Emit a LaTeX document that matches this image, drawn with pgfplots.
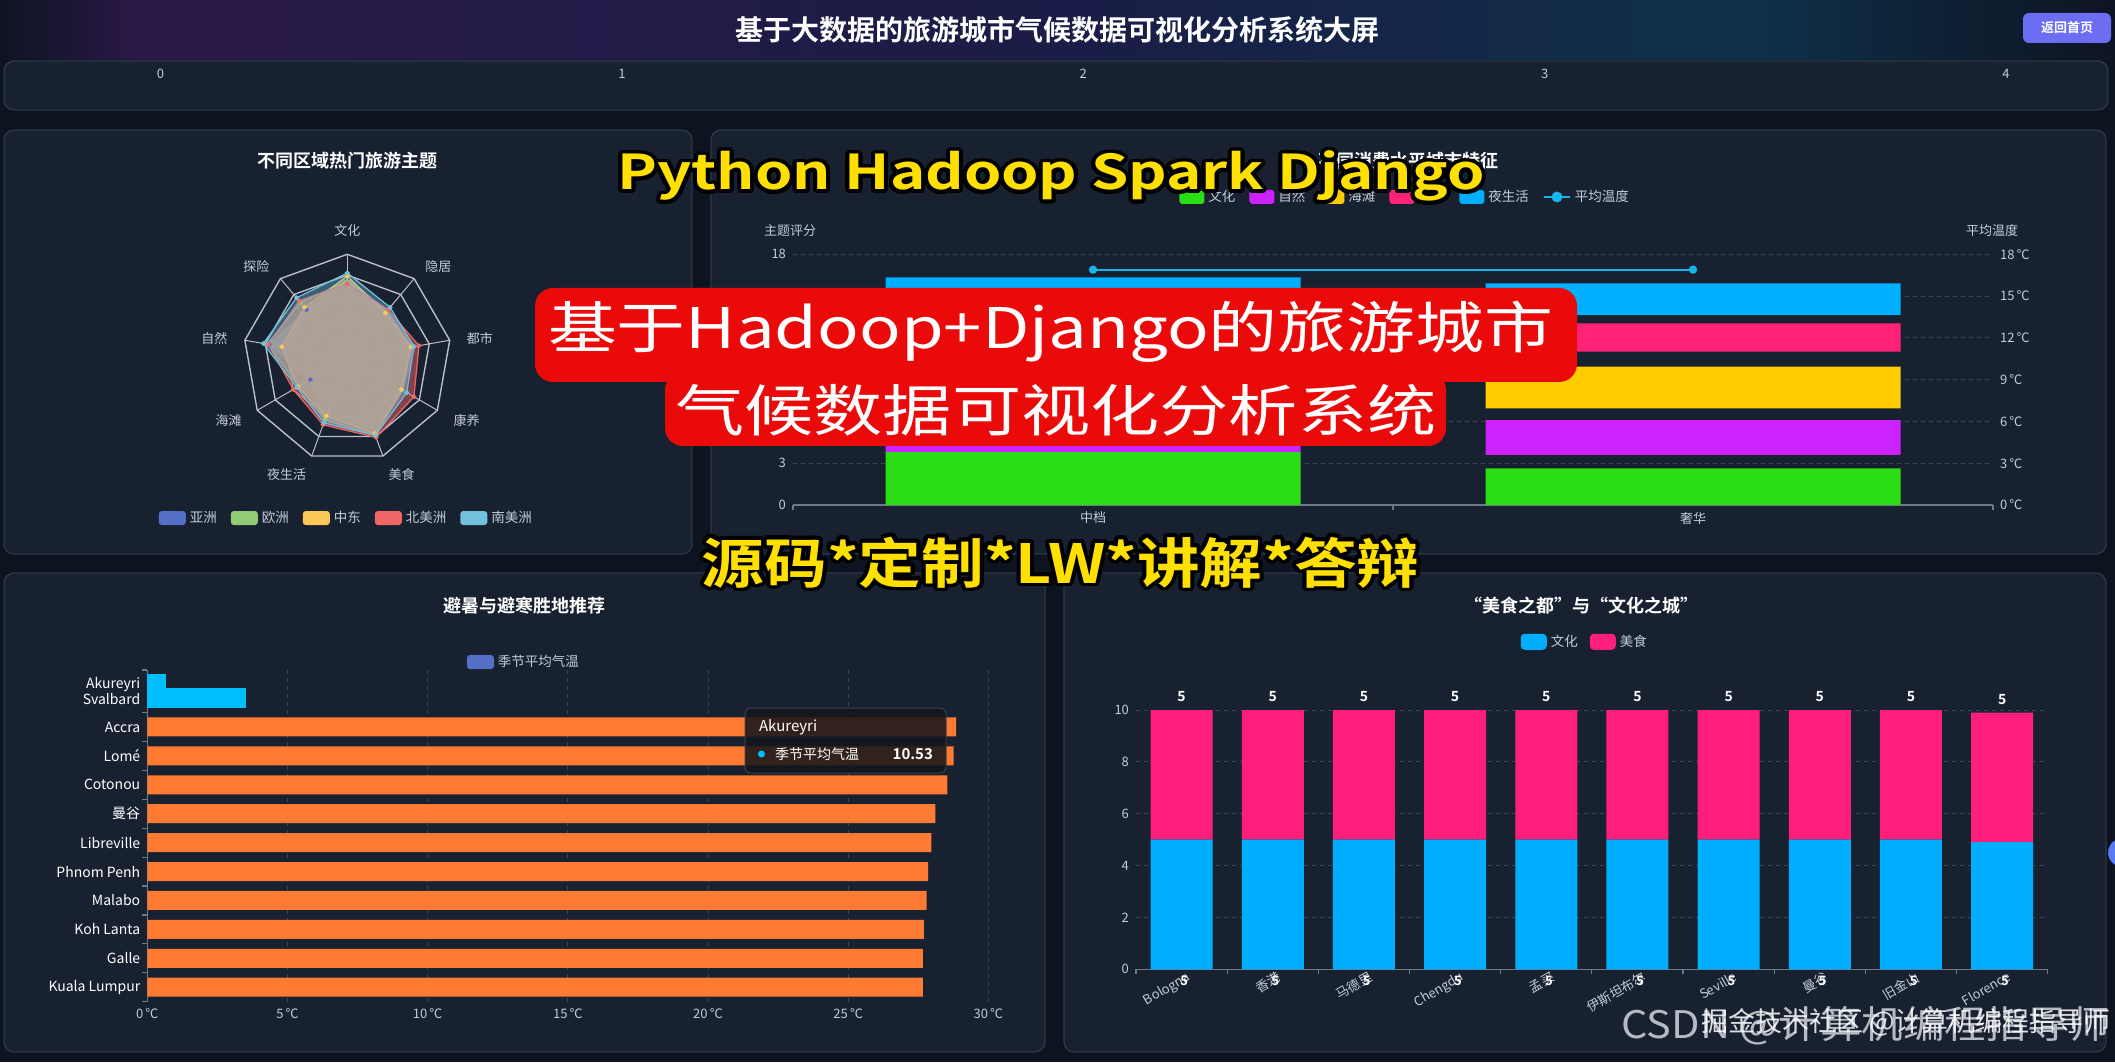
\documentclass[border=0pt]{standalone}
\usepackage{fontspec}
\setmainfont{Noto Sans CJK SC}[BoldFont={Noto Sans CJK SC Bold}]
\usepackage{graphicx}
\usepackage{pgfplots}
\pgfplotsset{compat=1.18}
\usepgfplotslibrary{polar}
\newcommand{\fs}[1]{\fontsize{#1}{#1}\selectfont}
\definecolor{pagebg}{HTML}{0D1420}
\definecolor{panelbg}{HTML}{172130}
\definecolor{panelbd}{HTML}{2B3749}
\definecolor{tickc}{HTML}{C3CBD6}
\definecolor{gridc}{HTML}{38455A}
\definecolor{axisc}{HTML}{6D7889}
\definecolor{hdrL}{HTML}{2A1848}
\definecolor{hdrM}{HTML}{1A1D47}
\definecolor{hdrR}{HTML}{0E3049}
\definecolor{hdrE}{HTML}{0E1422}
\definecolor{btn}{HTML}{6B6EF3}
\definecolor{rA}{HTML}{5470C6}
\definecolor{rB}{HTML}{91CC75}
\definecolor{rC}{HTML}{FAC858}
\definecolor{rD}{HTML}{EE6666}
\definecolor{rE}{HTML}{73C0DE}
\definecolor{radgrid}{HTML}{B9BEC8}
\definecolor{cg}{HTML}{2BDD14}
\definecolor{cp}{HTML}{CC22FF}
\definecolor{cy}{HTML}{FFCC00}
\definecolor{cpk}{HTML}{FF2277}
\definecolor{cb}{HTML}{00B0FF}
\definecolor{cline}{HTML}{1AB4EC}
\definecolor{corg}{HTML}{FF7A32}
\definecolor{csky}{HTML}{00BFFF}
\definecolor{cult}{HTML}{00AEFF}
\definecolor{food}{HTML}{FF1F7A}
\definecolor{ylw}{HTML}{FFE000}
\definecolor{redbox}{HTML}{EA0A0A}
\definecolor{ttbg}{HTML}{15161C}
\definecolor{ttbd}{HTML}{3A3F4A}
\definecolor{wmc}{HTML}{C7CCD4}
\definecolor{edgeb}{HTML}{5B7CF0}
\pgfplotsset{/pgf/number format/assume math mode=true}

\newcommand{\outlinedtext}[5]{%
  \foreach \ang in {0,20,...,340}{\node[anchor=#2, inner sep=0pt, text=black] at ([shift={(\ang:4)}]#1) {\resizebox{#3}{\height}{\bfseries\fs{#4}#5}};}
  \node[anchor=#2, inner sep=0pt, text=ylw] at (#1) {\resizebox{#3}{\height}{\bfseries\fs{#4}#5}};}

\begin{document}
\begin{tikzpicture}
\begin{scope}[x=0.5pt,y=0.5pt]
\fill[pagebg] (0,0) rectangle (2115,1062);
% header
\shade[left color=hdrE, right color=hdrL] (0,1002) rectangle (140,1062);
\shade[left color=hdrL, right color=hdrM] (140,1002) rectangle (1080,1062);
\shade[left color=hdrM, right color=hdrR] (1080,1002) rectangle (1750,1062);
\shade[left color=hdrR, right color=hdrE] (1750,1002) rectangle (2115,1062);
\node[text=white, font=\bfseries\fs{14}] at (1057,1032) {基于大数据的旅游城市气候数据可视化分析系统大屏};
\fill[btn, rounded corners=3] (2023,1049) rectangle (2111,1019);
\node[text=white, font=\bfseries\fs{6.5}] at (2067,1034) {返回首页};
% panels
\draw[panelbd, fill=panelbg, rounded corners=5, line width=0.7pt] (4,1001) rectangle (2108,952);
\draw[panelbd, fill=panelbg, rounded corners=5, line width=0.7pt] (4,932) rectangle (692,508);
\draw[panelbd, fill=panelbg, rounded corners=5, line width=0.7pt] (711,932) rectangle (2106,508);
\draw[panelbd, fill=panelbg, rounded corners=5, line width=0.7pt] (4,489) rectangle (1045,10);
\draw[panelbd, fill=panelbg, rounded corners=5, line width=0.7pt] (1064,489) rectangle (2106,10);
% titles
\node[text=white, font=\bfseries\fs{9}] at (347.5,901.5) {不同区域热门旅游主题};
\node[text=white, font=\bfseries\fs{9}] at (1408,901) {不同消费水平城市特征};
\node[text=white, font=\bfseries\fs{9}] at (524.5,456) {避暑与避寒胜地推荐};
\node[text=white, font=\bfseries\fs{9}] at (1581,456) {“美食之都”与“文化之城”};
\node[text=tickc, font=\fs{6.5}] at (790,831) {主题评分};
\node[text=tickc, font=\fs{6.5}] at (1992,831) {平均温度};
\end{scope}

% top strip
\begin{axis}[at={(80.25pt,500pt)}, anchor=south west, scale only axis, width=922.75pt, height=4pt,
  xmin=0, xmax=4, ymin=0, ymax=1, axis x line*=bottom, axis y line=none, x axis line style={draw=none},
  xtick={0,...,4}, major tick length=0pt, xticklabel style={font=\fs{6.5}, text=tickc}]
\addplot[draw=none] coordinates {(0,0.5) (4,0.5)};
\end{axis}

% radar
\begin{polaraxis}[at={(173.65pt,351.85pt)}, anchor=center, scale only axis, width=104pt, height=104pt,
  hide axis, xmin=0, xmax=360, ymin=0, ymax=10, clip=false,
  legend columns=5,
  legend style={at={(0.5,-0.268)}, anchor=center, draw=none, fill=none, text=tickc, font=\fs{6.75},
    /tikz/every even column/.append style={column sep=5pt}},
  legend image code/.code={\fill[fill opacity=1, draw=none, rounded corners=1.5pt] (0pt,-3.5pt) rectangle (13.5pt,3.5pt);}]
\addplot[radgrid, line width=0.7pt, forget plot] coordinates {(90,10)(50,10)(10,10)(330,10)(290,10)(250,10)(210,10)(170,10)(130,10)(90,10)};
\addplot[radgrid, line width=0.7pt, forget plot] coordinates {(90,8)(50,8)(10,8)(330,8)(290,8)(250,8)(210,8)(170,8)(130,8)(90,8)};
\addplot[radgrid, line width=0.5pt, forget plot] coordinates {(90,6)(50,6)(10,6)(330,6)(290,6)(250,6)(210,6)(170,6)(130,6)(90,6)};
\addplot[radgrid, line width=0.5pt, forget plot] coordinates {(90,4)(50,4)(10,4)(330,4)(290,4)(250,4)(210,4)(170,4)(130,4)(90,4)};
\addplot[radgrid, line width=0.5pt, forget plot] coordinates {(90,2)(50,2)(10,2)(330,2)(290,2)(250,2)(210,2)(170,2)(130,2)(90,2)};
\addplot[radgrid, line width=0.5pt, forget plot] coordinates {(90,0)(90,10)};
\addplot[radgrid, line width=0.5pt, forget plot] coordinates {(50,0)(50,10)};
\addplot[radgrid, line width=0.5pt, forget plot] coordinates {(10,0)(10,10)};
\addplot[radgrid, line width=0.5pt, forget plot] coordinates {(330,0)(330,10)};
\addplot[radgrid, line width=0.5pt, forget plot] coordinates {(290,0)(290,10)};
\addplot[radgrid, line width=0.5pt, forget plot] coordinates {(250,0)(250,10)};
\addplot[radgrid, line width=0.5pt, forget plot] coordinates {(210,0)(210,10)};
\addplot[radgrid, line width=0.5pt, forget plot] coordinates {(170,0)(170,10)};
\addplot[radgrid, line width=0.5pt, forget plot] coordinates {(130,0)(130,10)};
\addplot[rA, line width=0.6pt, fill=rA, fill opacity=0.75, mark=*, mark size=0.9pt, mark options={fill opacity=1}]
  coordinates {(90,7.6)(50,6.0)(10,6.6)(330,6.2)(290,7.8)(250,6.4)(210,4.1)(170,7.6)(130,6.1)(90,7.6)};
\addlegendentry{亚洲}
\addplot[rB, line width=0.6pt, fill=rB, fill opacity=0.6, mark=*, mark size=0.9pt, mark options={fill opacity=1}]
  coordinates {(90,7.4)(50,5.9)(10,6.3)(330,6.1)(290,7.9)(250,6.3)(210,5.4)(170,7.8)(130,7.0)(90,7.4)};
\addlegendentry{欧洲}
\addplot[rC, line width=0.6pt, fill=rC, fill opacity=0.55, mark=*, mark size=0.9pt, mark options={fill opacity=1}]
  coordinates {(90,7.9)(50,5.7)(10,6.2)(330,6.0)(290,7.7)(250,5.9)(210,5.5)(170,6.4)(130,6.4)(90,7.9)};
\addlegendentry{中东}
\addplot[rD, line width=0.6pt, fill=rD, fill opacity=0.5, mark=*, mark size=0.9pt, mark options={fill opacity=1}]
  coordinates {(90,7.2)(50,6.1)(10,7.0)(330,7.4)(290,8.1)(250,6.8)(210,6.0)(170,7.7)(130,7.2)(90,7.2)};
\addlegendentry{北美洲}
\addplot[rE, line width=0.6pt, fill=rE, fill opacity=0.4, mark=*, mark size=0.9pt, mark options={fill opacity=1}]
  coordinates {(90,8.2)(50,6.4)(10,6.5)(330,6.6)(290,7.9)(250,6.6)(210,5.6)(170,8.2)(130,7.6)(90,8.2)};
\addlegendentry{南美洲}
\node[text=tickc, font=\fs{6.5}] at (axis cs:90,12.24) {文化};
\node[text=tickc, font=\fs{6.5}] at (axis cs:45.2,12.42) {隐居};
\node[text=tickc, font=\fs{6.5}] at (axis cs:8.6,12.9) {都市};
\node[text=tickc, font=\fs{6.5}] at (axis cs:332.3,12.95) {康养};
\node[text=tickc, font=\fs{6.5}] at (axis cs:295,12.38) {美食};
\node[text=tickc, font=\fs{6.5}] at (axis cs:242.5,12.65) {夜生活};
\node[text=tickc, font=\fs{6.5}] at (axis cs:207.8,12.9) {海滩};
\node[text=tickc, font=\fs{6.5}] at (axis cs:171.4,12.93) {自然};
\node[text=tickc, font=\fs{6.5}] at (axis cs:134.8,12.42) {探险};
\end{polaraxis}

% consumption level bars (left axis)
\begin{axis}[at={(396.5pt,278.5pt)}, anchor=south west, scale only axis, width=600pt, height=125.35pt,
  ybar stacked, bar width=207.5pt, enlargelimits=false,
  xmin=-0.5, xmax=1.5, ymin=0, ymax=18,
  axis x line*=bottom, axis y line*=left, y axis line style={draw=none}, x axis line style={axisc, line width=0.6pt},
  xtick={0,1}, xticklabels={中档,奢华}, minor xtick={-0.5,0.5,1.5},
  ytick={0,3,...,18}, ymajorgrids, grid style={gridc, dash pattern=on 2pt off 2pt, line width=0.5pt},
  major tick length=0pt, minor tick length=2.5pt, tick align=outside, minor tick style={axisc, line width=0.6pt},
  ticklabel style={font=\fs{6.5}, text=tickc}, clip=false,
  legend columns=6,
  legend style={at={(0.511,1.2286)}, anchor=center, draw=none, fill=none, text=tickc, font=\fs{6.75},
    /tikz/every even column/.append style={column sep=5pt}},
  legend image code/.code={\fill[draw=none, rounded corners=1.5pt] (0pt,-3.5pt) rectangle (12.5pt,3.5pt);},
  legend entries={文化,自然,海滩,美食,夜生活,平均温度}]
\addlegendimage{fill=cg, draw=none}
\addlegendimage{fill=cp, draw=none}
\addlegendimage{fill=cy, draw=none}
\addlegendimage{fill=cpk, draw=none}
\addlegendimage{fill=cb, draw=none}
\addlegendimage{cline, legend image code/.code={\draw[cline, line width=1pt] (0pt,0pt) -- (13pt,0pt); \fill[cline] (6.5pt,0pt) circle (2.5pt);}}
\addplot[fill=cg, draw=none] coordinates {(0,3.8) (1,2.63)};
\addplot[fill=none, draw=none] coordinates {(0,0) (1,0.96)};
\addplot[fill=cp, draw=none] coordinates {(0,2.7) (1,2.51)};
\addplot[fill=none, draw=none] coordinates {(0,0) (1,0.84)};
\addplot[fill=cy, draw=none] coordinates {(0,3.4) (1,2.99)};
\addplot[fill=none, draw=none] coordinates {(0,0) (1,1.08)};
\addplot[fill=cpk, draw=none] coordinates {(0,3.1) (1,2.03)};
\addplot[fill=none, draw=none] coordinates {(0,0) (1,0.6)};
\addplot[fill=cb, draw=none] coordinates {(0,3.35) (1,2.28)};
\end{axis}
% right axis + temperature line
\begin{axis}[at={(396.5pt,278.5pt)}, anchor=south west, scale only axis, width=600pt, height=125.35pt, enlargelimits=false,
  xmin=-0.5, xmax=1.5, ymin=0, ymax=18, axis y line*=right, axis x line=none, y axis line style={draw=none},
  ytick={0,3,...,18}, yticklabel={\pgfmathprintnumber{\tick}\,℃}, major tick length=0pt,
  ticklabel style={font=\fs{6.5}, text=tickc}, clip=false]
\addplot[cline, line width=0.9pt, mark=*, mark size=1.6pt] coordinates {(0,16.9) (1,16.9)};
\end{axis}

% resorts horizontal bars
\begin{axis}[at={(73.65pt,30.15pt)}, anchor=south west, scale only axis, width=420.55pt, height=165.85pt, enlargelimits=false,
  xmin=0, xmax=30, ymin=-0.5, ymax=10.97,
  axis x line*=bottom, axis y line*=left, x axis line style={draw=none}, y axis line style={axisc, line width=0.6pt},
  xtick={0,5,...,30}, xticklabel={\pgfmathprintnumber{\tick}\,℃},
  xmajorgrids, grid style={gridc, dash pattern=on 2pt off 2pt, line width=0.5pt},
  ytick={0,...,9}, yticklabels={Kuala Lumpur,Galle,Koh Lanta,Malabo,Phnom Penh,Libreville,曼谷,Cotonou,Lomé,Accra},
  extra y ticks={9.97,10.47}, extra y tick labels={Svalbard,Akureyri},
  minor ytick={-0.5,0.5,1.5,2.5,3.5,4.5,5.5,6.5,7.5,8.5,9.5,10.97},
  major tick length=0pt, minor tick length=2.4pt, tick align=outside, minor tick style={axisc, line width=0.6pt},
  xticklabel style={font=\fs{6.5}, text=tickc}, yticklabel style={font=\fs{7}, text=white},
  clip=false,
  legend style={at={(0.449,1.024)}, anchor=center, draw=none, fill=none, text=tickc, font=\fs{6.75}},
  legend image code/.code={\fill[draw=none, rounded corners=1.5pt] (0pt,-3.5pt) rectangle (13.5pt,3.5pt);},
  legend entries={季节平均气温}]
\addlegendimage{fill=rA, draw=none}
\addplot[xbar, bar width=9.5pt, bar shift=0pt, fill=corg, draw=none]
  coordinates {(27.66,0) (27.66,1) (27.70,2) (27.80,3) (27.85,4) (27.97,5) (28.11,6) (28.54,7) (28.76,8) (28.85,9)};
\addplot[xbar, bar width=10pt, bar shift=0pt, fill=csky, draw=none] coordinates {(3.53,9.99)};
\addplot[xbar, bar width=7pt, bar shift=0pt, fill=csky, draw=none] coordinates {(0.67,10.58)};
\end{axis}

% food / culture stacked
\begin{axis}[at={(568pt,46.35pt)}, anchor=south west, scale only axis, width=455.85pt, height=129.65pt, enlargelimits=false,
  ybar stacked, bar width=31pt, xmin=-0.5, xmax=9.5, ymin=0, ymax=10,
  axis x line*=bottom, axis y line*=left, y axis line style={draw=none}, x axis line style={axisc, line width=0.6pt},
  xtick={0,...,9}, xticklabels={Bologna,香港,马德里,Chengdu,孟买,伊斯坦布尔,Seville,曼谷,旧金山,Florence},
  minor xtick={-0.5,0.5,1.5,2.5,3.5,4.5,5.5,6.5,7.5,8.5,9.5},
  ytick={0,2,...,10}, ymajorgrids, grid style={gridc, dash pattern=on 2pt off 2pt, line width=0.5pt},
  major tick length=0pt, minor tick length=2.5pt, tick align=outside, minor tick style={axisc, line width=0.6pt},
  xticklabel style={font=\fs{6.5}, text=tickc, rotate=30, anchor=north east, inner sep=1.5pt, xshift=3pt},
  yticklabel style={font=\fs{6.5}, text=tickc},
  clip=false,
  legend columns=2,
  legend style={at={(0.4933,1.263)}, anchor=center, draw=none, fill=none, text=tickc, font=\fs{6.75},
    /tikz/every even column/.append style={column sep=4pt}},
  legend image code/.code={\fill[draw=none, rounded corners=2pt] (0pt,-4pt) rectangle (13pt,4pt);},
  legend entries={文化,美食}]
\addlegendimage{fill=cult, draw=none}
\addlegendimage{fill=food, draw=none}
\addplot[fill=cult, draw=none] coordinates {(0,5) (1,5) (2,5) (3,5) (4,5) (5,5) (6,5) (7,5) (8,5) (9,4.9)};
\addplot[fill=food, draw=none] coordinates {(0,5) (1,5) (2,5) (3,5) (4,5) (5,5) (6,5) (7,5) (8,5) (9,5)};
\pgfplotsinvokeforeach{0,...,8}{\node[font=\bfseries\fs{7}, text=white, anchor=south, yshift=0.5pt] at (axis cs:#1,10) {5};}
\node[font=\bfseries\fs{7}, text=white, anchor=south, yshift=0.5pt] at (axis cs:9,9.9) {5};
\pgfplotsinvokeforeach{0,...,9}{\node[font=\bfseries\fs{6.5}, text=white] at (axis cs:#1+0.03,-0.45) {5};}
\end{axis}

\begin{scope}[x=0.5pt,y=0.5pt]
% tooltip
\fill[ttbg, fill opacity=0.88, rounded corners=3] (745,354) rectangle (946,289);
\draw[ttbd, rounded corners=3, line width=0.5pt] (745,354) rectangle (946,289);
\node[anchor=west, text=white, font=\fs{7.5}] at (752,335) {Akureyri};
\fill[csky] (761.5,308) circle (3.5);
\node[anchor=west, text=white, font=\fs{7}] at (768,308) {季节平均气温};
\node[anchor=east, text=white, font=\bfseries\fs{7.5}] at (940,308) {10.53};
% watermark
\node[anchor=base west, inner sep=0pt, text=wmc, opacity=0.9] at (1621,24) {\resizebox{244.5pt}{\height}{\fs{19}CSDN @计算机编程指导师}};
\node[anchor=base west, inner sep=0pt, text=white, opacity=0.85] at (1701,31) {\resizebox{204.5pt}{\height}{\fs{13.5}掘金技术社区 @计算机编程指导师}};
\fill[edgeb] (2115,221.5) arc[start angle=120, end angle=240, radius=14] -- cycle;
% overlay banner
\fill[redbox, rounded corners=9] (535,774) rectangle (1577,680);
\fill[redbox, rounded corners=9] (665,690) rectangle (1446,616);
\node[anchor=base west, inner sep=0pt, text=white] at (547.6,713) {\resizebox{502.7pt}{\height}{\fs{28}基于Hadoop+Django的旅游城市}};
\node[anchor=base west, inner sep=0pt, text=white] at (675,630) {\resizebox{380.5pt}{\height}{\fs{28}气候数据可视化分析系统}};
\outlinedtext{617,872}{base west}{433.5pt}{24}{Python Hadoop Spark Django}
\outlinedtext{701.5,479}{base west}{358.75pt}{27}{源码*定制*LW*讲解*答辩}
\pgfresetboundingbox
\path[use as bounding box] (0,0) rectangle (2115,1062);
\end{scope}
\end{tikzpicture}
\end{document}
